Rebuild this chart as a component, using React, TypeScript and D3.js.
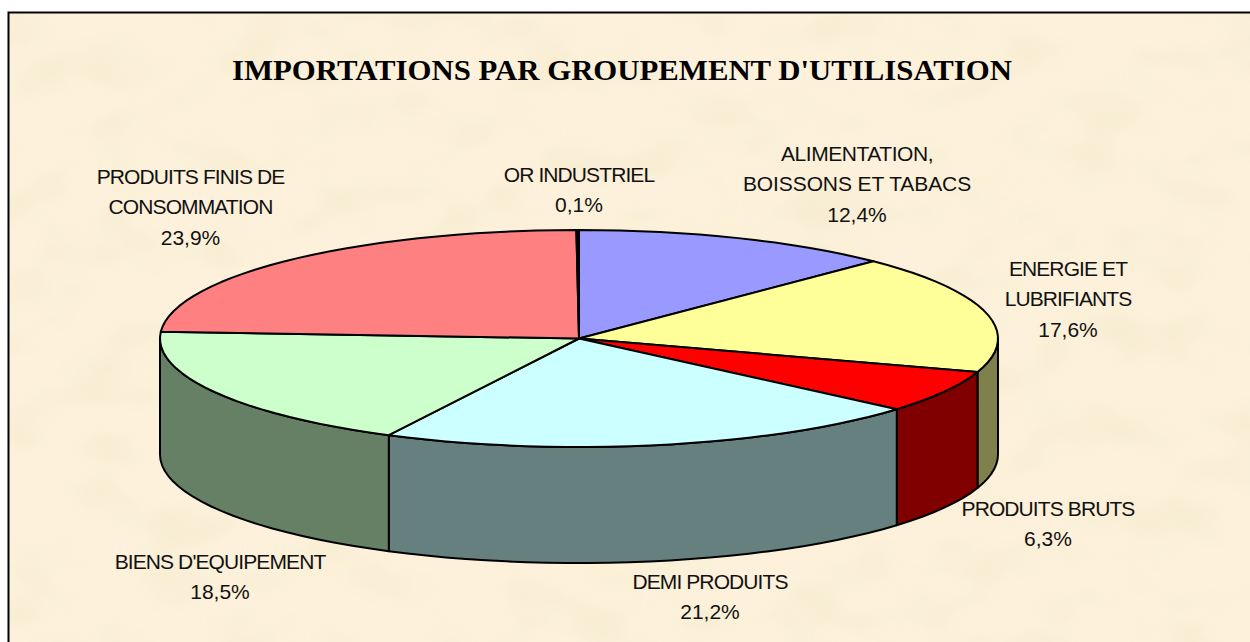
import React from "react";
import * as d3 from "d3";

const categories = ["ALIMENTATION, BOISSONS ET TABACS", "ENERGIE ET LUBRIFIANTS", "PRODUITS BRUTS", "DEMI PRODUITS", "BIENS D'EQUIPEMENT", "PRODUITS FINIS DE CONSOMMATION", "OR INDUSTRIEL"];
const values = [12.4, 17.6, 6.3, 21.2, 18.5, 23.9, 0.1];
const topColors = ["#9999FF", "#FFFF99", "#FF0000", "#CCFFFF", "#CCFFCC", "#FF8080", "#000000"];
const sideColors = ["#4D4D80", "#80804D", "#800000", "#668080", "#668066", "#804040", "#808066"];
const labelLines = [
  ["ALIMENTATION,", "BOISSONS ET TABACS", "12,4%"],
  ["ENERGIE  ET", "LUBRIFIANTS", "17,6%"],
  ["PRODUITS BRUTS", "6,3%"],
  ["DEMI  PRODUITS", "21,2%"],
  ["BIENS D'EQUIPEMENT", "18,5%"],
  ["PRODUITS FINIS DE", "CONSOMMATION", "23,9%"],
  ["OR INDUSTRIEL", "0,1%"],
];
const labelAnchors = [
  [857, 153], [1068, 268], [1048, 508], [710, 581], [220, 561], [190.5, 176], [579, 174],
];
const looserLines: Record<string, number> = { "ALIMENTATION,": -0.45, "BOISSONS ET TABACS": -0.1 };
const title = "IMPORTATIONS PAR GROUPEMENT D'UTILISATION";

const W = 1250, H = 642;
const cx = 579, cy = 338.5, rx = 419, ry = 108.5, depth = 116;

const slices = d3.pie<number>().sort(null).startAngle(0).endAngle(2 * Math.PI)(values);
const px = (a: number) => cx + rx * Math.sin(a);
const py = (a: number) => cy - ry * Math.cos(a);
const line = d3.line<[number, number]>();

function sample(a0: number, a1: number): [number, number][] {
  const n = Math.max(2, Math.ceil(Math.abs(a1 - a0) / 0.05));
  return d3.range(n + 1).map((i) => {
    const a = a0 + ((a1 - a0) * i) / n;
    return [px(a), py(a)] as [number, number];
  });
}

function tracking(t: string): number {
  if (/%/.test(t)) return 0;
  return looserLines[t] ?? -0.9;
}

export default function App() {
  return (
    <svg width={W} height={H} style={{ position: "absolute", left: 0, top: 0 }}>
      <defs>
        <filter id="mottle" x="0" y="0" width="100%" height="100%">
          <feTurbulence type="fractalNoise" baseFrequency="0.014 0.022" numOctaves={2} seed={11} />
          <feGaussianBlur stdDeviation={2.5} />
          <feColorMatrix
            type="matrix"
            values="0 0 0 0 0.88  0 0 0 0 0.82  0 0 0 0 0.58  2.0 0 0 0 -0.82"
          />
        </filter>
      </defs>
      <rect x={0} y={0} width={W} height={H} fill="#fff" />
      <rect x={8} y={12} width={W - 8} height={H - 12} fill="#FDF1DB" />
      <rect x={9} y={13} width={W - 9} height={H - 13} filter="url(#mottle)" opacity={0.5} />
      <path d={`M8.5,${H}V12.5H${W}`} fill="none" stroke="#000" strokeWidth={2} />
      <text x={622} y={80} textAnchor="middle" fontFamily="Liberation Serif" fontWeight="bold" fontSize={30} textLength={780} lengthAdjust="spacingAndGlyphs" fill="#000">{title}</text>
      <g stroke="#000" strokeWidth={2} strokeLinejoin="round">
        {slices.map((s, i) => {
          const a0 = Math.max(s.startAngle, Math.PI / 2);
          const a1 = Math.min(s.endAngle, (3 * Math.PI) / 2);
          if (a1 <= a0) return null;
          const upper = sample(a0, a1);
          const lower = upper.slice().reverse().map(([x, y]) => [x, y + depth] as [number, number]);
          return <path key={categories[i]} d={line([...upper, ...lower]) + "Z"} fill={sideColors[i]} />;
        })}
        {slices.map((s, i) => (
          <path key={categories[i]} d={line([[cx, cy], ...sample(s.startAngle, s.endAngle)]) + "Z"} fill={topColors[i]} />
        ))}
      </g>
      <g fontFamily="Liberation Sans" fontSize={21} fill="#111" textAnchor="middle" style={{ whiteSpace: "pre" }}>
        {labelLines.map((ls, i) => (
          <text key={categories[i]} x={labelAnchors[i][0]} y={labelAnchors[i][1] + 7.5}>
            {ls.map((t, j) => (
              <tspan key={j} x={labelAnchors[i][0]} dy={j === 0 ? 0 : 30.5} letterSpacing={tracking(t)}>{t}</tspan>
            ))}
          </text>
        ))}
      </g>
    </svg>
  );
}
